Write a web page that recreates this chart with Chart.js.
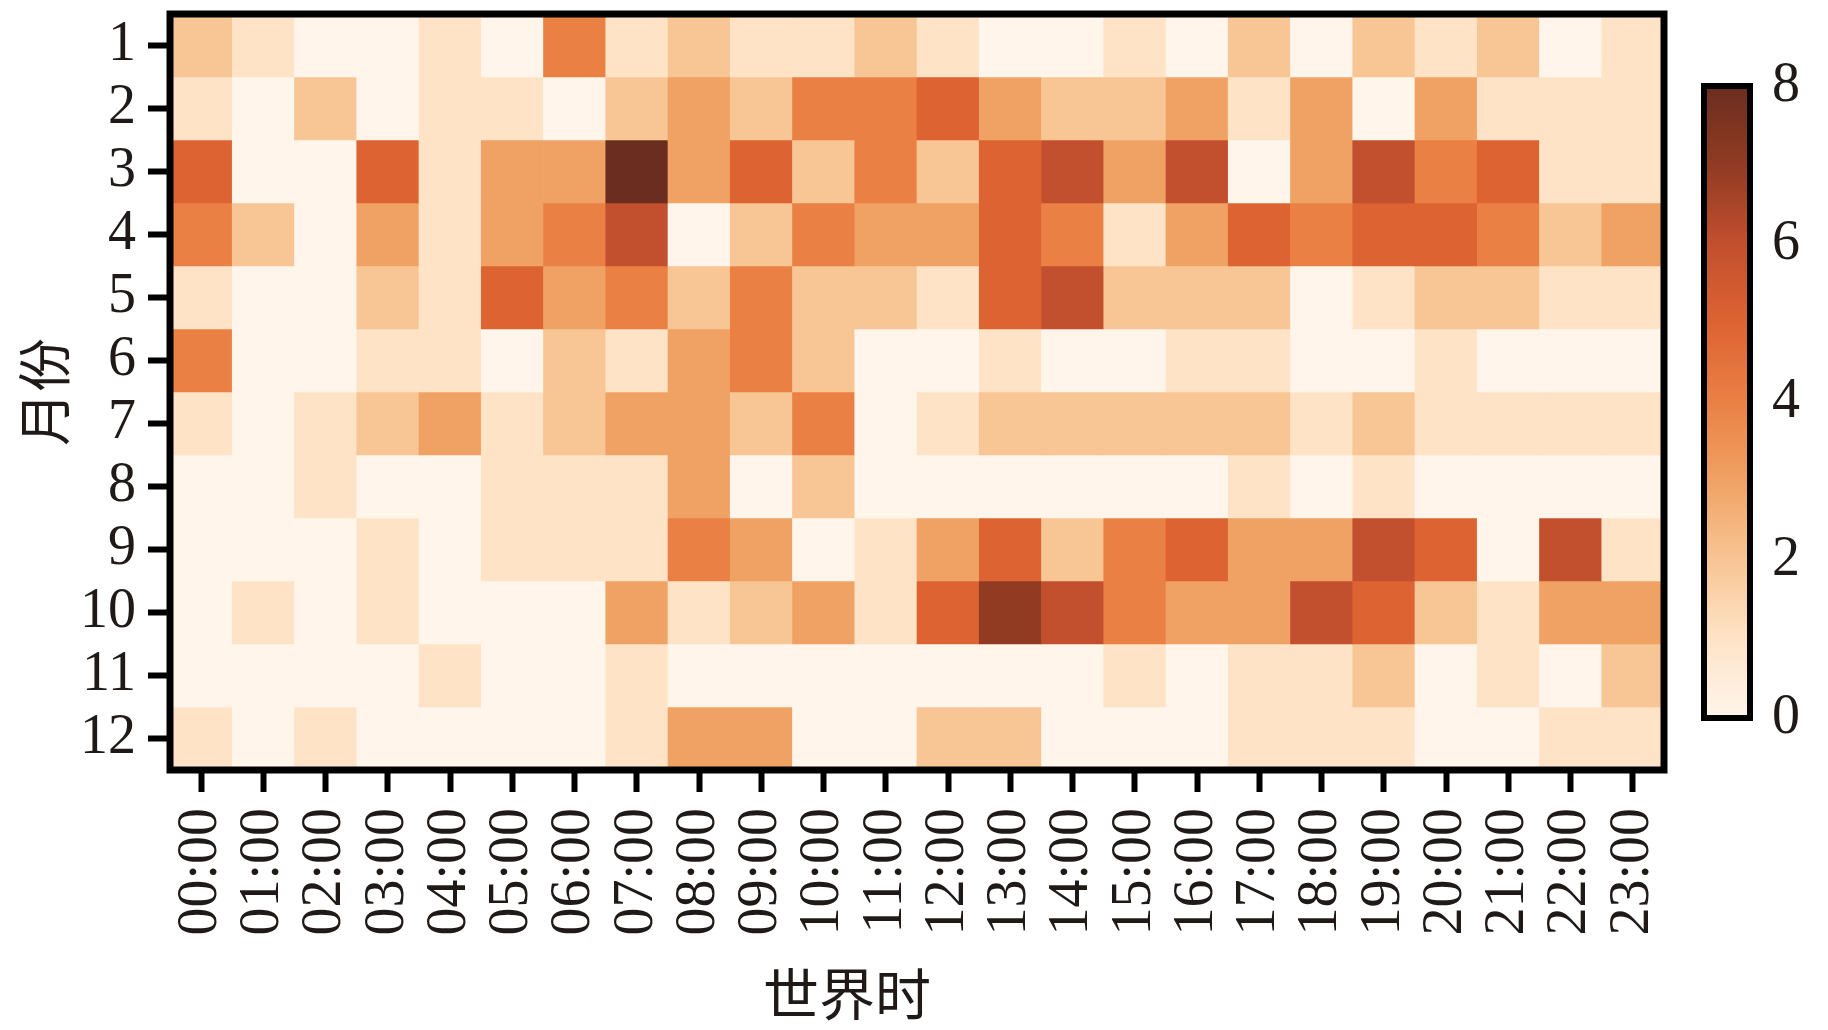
<!DOCTYPE html>
<html>
<head>
<meta charset="utf-8">
<script src="https://cdn.jsdelivr.net/npm/chart.js@4.4.1/dist/chart.umd.min.js"></script>
<style>
  html, body { margin: 0; padding: 0; background: #fff; }
  #wrap { position: relative; width: 1828px; height: 1030px; }
  #heat { position: absolute; left: 0; top: 0; }
  #cbar { position: absolute; left: 1690px; top: 0; }
</style>
</head>
<body>
<div id="wrap">
  <canvas id="heat" width="1828" height="1030"></canvas>
  <canvas id="cbar" width="138" height="1030"></canvas>
</div>
<script>
// hours (UTC) and months
const hours = ['00:00', '01:00', '02:00', '03:00', '04:00', '05:00', '06:00', '07:00',
               '08:00', '09:00', '10:00', '11:00', '12:00', '13:00', '14:00', '15:00',
               '16:00', '17:00', '18:00', '19:00', '20:00', '21:00', '22:00', '23:00'];
const months = [1, 2, 3, 4, 5, 6, 7, 8, 9, 10, 11, 12];

// one row per month, one value per hour
const jan = [2, 1, 0, 0, 1, 0, 4, 1, 2, 1, 1, 2, 1, 0, 0, 1, 0, 2, 0, 2, 1, 2, 0, 1];
const feb = [1, 0, 2, 0, 1, 1, 0, 2, 3, 2, 4, 4, 5, 3, 2, 2, 3, 1, 3, 0, 3, 1, 1, 1];
const mar = [5, 0, 0, 5, 1, 3, 3, 8, 3, 5, 2, 4, 2, 5, 6, 3, 6, 0, 3, 6, 4, 5, 1, 1];
const apr = [4, 2, 0, 3, 1, 3, 4, 6, 0, 2, 4, 3, 3, 5, 4, 1, 3, 5, 4, 5, 5, 4, 2, 3];
const may = [1, 0, 0, 2, 1, 5, 3, 4, 2, 4, 2, 2, 1, 5, 6, 2, 2, 2, 0, 1, 2, 2, 1, 1];
const jun = [4, 0, 0, 1, 1, 0, 2, 1, 3, 4, 2, 0, 0, 1, 0, 0, 1, 1, 0, 0, 1, 0, 0, 0];
const jul = [1, 0, 1, 2, 3, 1, 2, 3, 3, 2, 4, 0, 1, 2, 2, 2, 2, 2, 1, 2, 1, 1, 1, 1];
const aug = [0, 0, 1, 0, 0, 1, 1, 1, 3, 0, 2, 0, 0, 0, 0, 0, 0, 1, 0, 1, 0, 0, 0, 0];
const sep = [0, 0, 0, 1, 0, 1, 1, 1, 4, 3, 0, 1, 3, 5, 2, 4, 5, 3, 3, 6, 5, 0, 6, 1];
const oct = [0, 1, 0, 1, 0, 0, 0, 3, 1, 2, 3, 1, 5, 7, 6, 4, 3, 3, 6, 5, 2, 1, 3, 3];
const nov = [0, 0, 0, 0, 1, 0, 0, 1, 0, 0, 0, 0, 0, 0, 0, 1, 0, 1, 1, 2, 0, 1, 0, 2];
const dec = [1, 0, 1, 0, 0, 0, 0, 1, 3, 3, 0, 0, 2, 2, 0, 0, 0, 1, 1, 1, 0, 0, 1, 1];
const values = [jan, feb, mar, apr, may, jun, jul, aug, sep, oct, nov, dec];

// colour bar
const cbarMin = 0;
const cbarMax = 8;
const cbarTicks = [0, 2, 4, 6, 8];

// orange colour map (value -> colour)
const cmapStops = [0, 1, 2, 3, 4, 5, 6, 7, 8];
const cmapColors = ['#fff5eb', '#fee3c7', '#f8c594', '#f0a264', '#ea8044',
                    '#dd6333', '#c24f2d', '#913b23', '#6b2d1f'];

function hexToRgb(h) {
    return [parseInt(h.slice(1, 3), 16), parseInt(h.slice(3, 5), 16), parseInt(h.slice(5, 7), 16)];
}

function toColor(v) {
    if (v <= cmapStops[0]) return cmapColors[0];
    for (let i = 1; i < cmapStops.length; i++) {
        if (v <= cmapStops[i]) {
            const t = (v - cmapStops[i - 1]) / (cmapStops[i] - cmapStops[i - 1]);
            const a = hexToRgb(cmapColors[i - 1]), b = hexToRgb(cmapColors[i]);
            const c = a.map((x, k) => Math.round(x + (b[k] - x) * t));
            return `rgb(${c[0]}, ${c[1]}, ${c[2]})`;
        }
    }
    return cmapColors[cmapColors.length - 1];
}

const textColor = '#1f1a17';
const serif = '"Liberation Serif", "Times New Roman", serif';
const cjk = '"Noto Sans CJK SC", "Noto Sans", sans-serif';

// black frame round the plot area
const framePlugin = {
    id: 'frame',
    afterDraw(chart, args, opts) {
        const a = chart.chartArea;
        const ctx = chart.ctx;
        ctx.save();
        ctx.strokeStyle = '#000';
        ctx.lineWidth = opts.width || 6;
        ctx.strokeRect(a.left, a.top, a.right - a.left, a.bottom - a.top);
        ctx.restore();
    }
};

// x axis title, sits a little left of centre in the original
const xTitlePlugin = {
    id: 'xTitle',
    afterDraw(chart, args, opts) {
        const ctx = chart.ctx;
        ctx.save();
        ctx.font = `56px ${cjk}`;
        ctx.fillStyle = textColor;
        ctx.textAlign = 'center';
        ctx.textBaseline = 'middle';
        const a = chart.chartArea;
        ctx.fillText(opts.text, (a.left + a.right) / 2 + opts.shift, opts.y);
        ctx.restore();
    }
};

// keep chart.js from reserving room for half tick labels at the ends
function noEdgePadding(s) {
    s.paddingTop = 0;
    s.paddingBottom = 0;
    s.paddingLeft = 0;
    s.paddingRight = 0;
}

Chart.defaults.font.family = serif;
Chart.defaults.color = textColor;

// heatmap: each month is a row of floating bars
const heatDatasets = values.map((row, r) => ({
    label: months[r] + '月',
    data: row.map(() => [months[r] - 0.5, months[r] + 0.5]),
    backgroundColor: row.map(toColor),
    borderWidth: 0,
    barPercentage: 1,
    categoryPercentage: 1,
    grouped: false
}));

new Chart(document.getElementById('heat'), {
    type: 'bar',
    data: { labels: hours, datasets: heatDatasets },
    options: {
        responsive: false,
        animation: false,
        devicePixelRatio: 1,
        layout: { padding: { left: 0, top: 14, right: 164, bottom: 0 } },
        plugins: {
            legend: { display: false },
            tooltip: { enabled: false },
            frame: { width: 7 },
            xTitle: { text: '世界时', shift: -70, y: 994 }
        },
        scales: {
            x: {
                type: 'category',
                offset: true,
                ticks: {
                    font: { size: 56 },
                    color: textColor,
                    minRotation: 90,
                    maxRotation: 90,
                    autoSkip: false,
                    padding: 16
                },
                grid: {
                    offset: false,
                    drawOnChartArea: false,
                    drawTicks: true,
                    tickLength: 22,
                    tickWidth: 6,
                    tickColor: '#000'
                },
                border: { display: false },
                afterFit: s => { s.height = 260; noEdgePadding(s); }
            },
            y: {
                type: 'linear',
                min: 0.5,
                max: 12.5,
                reverse: true,
                afterBuildTicks: s => { s.ticks = months.map(v => ({ value: v })); },
                ticks: {
                    font: { size: 56 },
                    color: textColor,
                    padding: 12,
                    autoSkip: false,
                    callback: v => v
                },
                grid: {
                    drawOnChartArea: false,
                    drawTicks: true,
                    tickLength: 22,
                    tickWidth: 6,
                    tickColor: '#000'
                },
                border: { display: false },
                title: {
                    display: true,
                    text: '月份',
                    font: { family: cjk, size: 54 },
                    color: textColor,
                    padding: { top: 12, bottom: 0 }
                },
                afterFit: s => { s.width = 170; noEdgePadding(s); }
            }
        }
    },
    plugins: [framePlugin, xTitlePlugin]
});

// colour bar: one floating bar filled with the colour map gradient
new Chart(document.getElementById('cbar'), {
    type: 'bar',
    data: {
        labels: [''],
        datasets: [{
            data: [[cbarMin, cbarMax]],
            backgroundColor: ctx => {
                const c = ctx.chart;
                if (!c.chartArea) return cmapColors[0];
                const ys = c.scales.y;
                const g = c.ctx.createLinearGradient(0, ys.getPixelForValue(cbarMin), 0, ys.getPixelForValue(cbarMax));
                cmapStops.forEach((v, i) => g.addColorStop((v - cbarMin) / (cbarMax - cbarMin), cmapColors[i]));
                return g;
            },
            borderWidth: 0,
            barPercentage: 1,
            categoryPercentage: 1
        }]
    },
    options: {
        responsive: false,
        animation: false,
        devicePixelRatio: 1,
        layout: { padding: { left: 14, top: 86, right: 0, bottom: 312 } },
        plugins: {
            legend: { display: false },
            tooltip: { enabled: false },
            frame: { width: 6 }
        },
        scales: {
            x: { display: false },
            y: {
                position: 'right',
                min: cbarMin,
                max: cbarMax,
                afterBuildTicks: s => { s.ticks = cbarTicks.map(v => ({ value: v })); },
                ticks: {
                    font: { size: 56 },
                    color: textColor,
                    padding: 30,
                    autoSkip: false
                },
                grid: {
                    drawOnChartArea: false,
                    drawTicks: true,
                    tickLength: -8,
                    tickWidth: 4,
                    tickColor: '#2a1a14'
                },
                border: { display: false },
                afterFit: s => { s.width = 78; noEdgePadding(s); }
            }
        }
    },
    plugins: [framePlugin]
});
</script>
</body>
</html>
